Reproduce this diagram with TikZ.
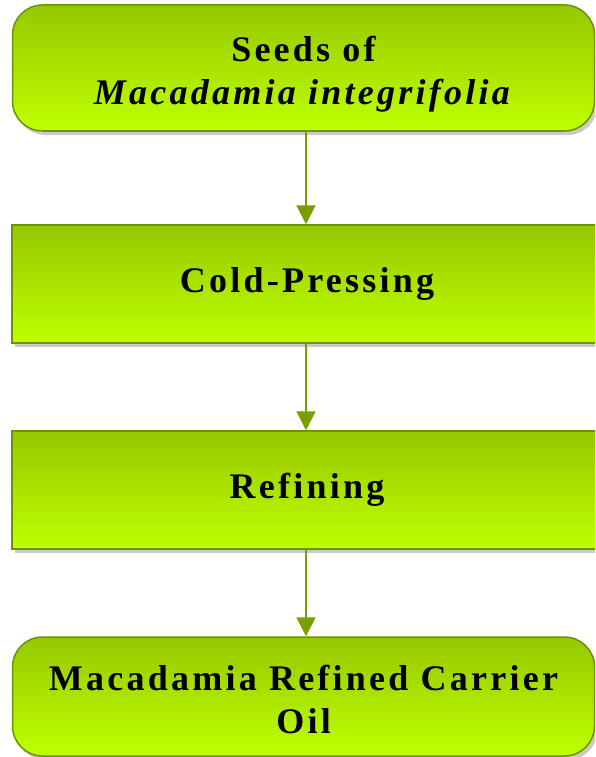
\documentclass[tikz,border=0pt]{standalone}
\usepackage{fontspec}
\setmainfont{Liberation Serif}
\usetikzlibrary{arrows.meta,shadows}
\definecolor{boxtop}{RGB}{150,200,0}
\definecolor{boxbot}{RGB}{191,255,0}
\definecolor{boxline}{RGB}{108,148,0}
\definecolor{arrowcol}{RGB}{118,160,0}
\tikzset{
  stagebox/.style={draw=boxline, line width=1.5pt, top color=boxtop, bottom color=boxbot,
    inner sep=0pt, align=center, text=black,
    font=\fontsize{36}{43}\selectfont\bfseries\addfontfeature{LetterSpace=9},
    drop shadow={shadow xshift=3pt, shadow yshift=-4pt, opacity=0.35, fill=black!60}},
  roundbox/.style={stagebox, rounded corners=30pt},
  flowarrow/.style={draw=arrowcol, line width=2pt, -{Triangle[width=19pt,length=19pt]}}
}
\begin{document}
\begin{tikzpicture}[x=1pt,y=-1pt]
\useasboundingbox (0,0) rectangle (595,757);
\begin{scope}
\clip (0,0) rectangle (595,757);
\node[roundbox, minimum width=582pt, minimum height=126pt] (seeds) at (303.5,68)
  {\rule{0pt}{38pt}Seeds of\\\textit{Macadamia integrifolia}};
\node[stagebox, minimum width=590pt, minimum height=118pt] (press) at (307,284) {Cold-Pressing};
\node[stagebox, minimum width=590pt, minimum height=118pt] (refine) at (307,490) {Refining};
\node[roundbox, minimum width=582pt, minimum height=119pt] (oil) at (303.5,696.5)
  {\rule{0pt}{31pt}Macadamia Refined Carrier\\Oil};
\end{scope}
\draw[flowarrow] (seeds.south -| 306,0) -- (press.north -| 306,0);
\draw[flowarrow] (press.south -| 306,0) -- (refine.north -| 306,0);
\draw[flowarrow] (refine.south -| 306,0) -- (oil.north -| 306,0);
\end{tikzpicture}
\end{document}
